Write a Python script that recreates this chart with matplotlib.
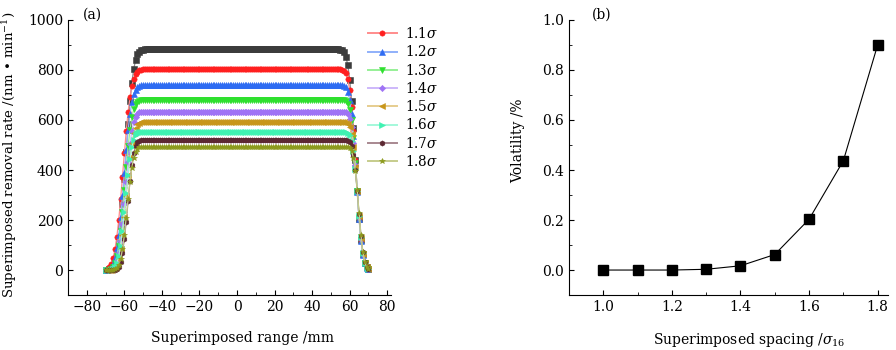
import matplotlib.pyplot as plt
from matplotlib.ticker import MultipleLocator

plt.rcParams['font.family'] = 'DejaVu Serif'
plt.rcParams['mathtext.fontset'] = 'dejavuserif'
plt.rcParams['font.size'] = 10

# (a) superimposed removal rate profiles, sampled every 1 mm
x_rise = [-70, -69, -68, -67, -66, -65, -64, -63, -62, -61, -60,
          -59, -58, -57, -56, -55, -54, -53, -52, -51, -50]
x_flat = list(range(-49, 50))
x_fall = [50, 51, 52, 53, 54, 55, 56, 57, 58, 59, 60,
          61, 62, 63, 64, 65, 66, 67, 68, 69, 70]

spacing_labels = ['1.0', '1.1', '1.2', '1.3', '1.4', '1.5', '1.6', '1.7', '1.8']
levels = [883, 803, 740, 680, 633, 591, 553, 520, 493]

rise_10 = [0, 1, 3, 7, 16, 33, 63, 109, 177, 263, 365, 473, 582, 675, 749, 804, 840, 862, 873, 879, 881]
rise_11 = [2, 6, 13, 26, 48, 83, 133, 199, 283, 373, 468, 555, 631, 692, 736, 765, 783, 793, 799, 801, 803]
rise_12 = [1, 2, 5, 12, 26, 49, 87, 140, 213, 297, 388, 479, 559, 622, 670, 702, 721, 731, 736, 739, 740]
rise_13 = [0, 1, 2, 6, 13, 28, 55, 97, 158, 234, 321, 412, 494, 560, 611, 643, 662, 672, 677, 679, 680]
rise_14 = [0, 0, 1, 3, 7, 17, 35, 68, 116, 184, 264, 352, 433, 505, 556, 592, 613, 624, 630, 632, 633]
rise_15 = [0, 0, 0, 1, 4, 10, 22, 45, 84, 141, 212, 296, 379, 450, 507, 546, 569, 582, 587, 590, 591]
rise_16 = [0, 0, 1, 2, 5, 13, 28, 55, 97, 157, 231, 307, 382, 445, 491, 521, 538, 547, 551, 552, 553]
rise_17 = [0, 0, 0, 0, 0, 2, 5, 14, 33, 68, 123, 194, 277, 356, 422, 468, 496, 510, 516, 519, 520]
rise_18 = [0, 0, 0, 0, 1, 3, 8, 21, 44, 83, 139, 210, 284, 354, 410, 449, 472, 485, 490, 492, 493]

fall_10 = [883, 883, 883, 883, 883, 881, 878, 870, 853, 818, 761, 677, 566, 442, 317, 206, 122, 65, 30, 13, 5]
fall_11 = [803, 803, 803, 803, 803, 802, 801, 797, 786, 763, 721, 651, 555, 440, 316, 207, 120, 63, 28, 11, 4]
fall_12 = [740, 740, 740, 740, 740, 740, 739, 737, 730, 713, 680, 622, 537, 428, 312, 203, 118, 60, 27, 10, 3]
fall_13 = [680, 680, 680, 680, 680, 680, 680, 678, 675, 664, 641, 598, 526, 428, 318, 210, 122, 63, 27, 10, 3]
fall_14 = [633, 633, 633, 633, 633, 633, 633, 632, 630, 622, 605, 570, 508, 422, 317, 211, 125, 63, 28, 11, 3]
fall_15 = [591, 591, 591, 591, 591, 591, 591, 590, 589, 584, 571, 542, 491, 413, 317, 215, 129, 66, 29, 11, 3]
fall_16 = [553, 553, 553, 553, 553, 553, 553, 553, 552, 549, 539, 517, 474, 405, 316, 218, 132, 68, 30, 11, 4]
fall_17 = [520, 520, 520, 520, 520, 520, 520, 520, 519, 517, 511, 494, 458, 399, 315, 223, 136, 72, 32, 12, 4]
fall_18 = [493, 493, 493, 493, 493, 493, 493, 493, 493, 492, 488, 476, 448, 397, 319, 227, 140, 72, 32, 11, 3]

rises = [rise_10, rise_11, rise_12, rise_13, rise_14, rise_15, rise_16, rise_17, rise_18]
falls = [fall_10, fall_11, fall_12, fall_13, fall_14, fall_15, fall_16, fall_17, fall_18]

colors = ['#3c3c3c', '#ff1f1f', '#2f6cf2', '#2fe02f', '#9f73f5',
          '#c8961a', '#3ff2b2', '#5c2832', '#8c9a1c']
line_colors = ['#8a8a8a', '#ff8c8c', '#8fb0fa', '#96f096', '#cdb8fa',
               '#e6cd8f', '#a4f8da', '#a88890', '#c6cc8c']
markers = ['s', 'o', '^', 'v', 'D', '<', '>', 'h', '*']
msizes = [3.8, 3.8, 3.8, 3.8, 3.2, 3.8, 3.8, 3.8, 4.4]

# (b) volatility vs superimposed spacing
spacing = [1.0, 1.1, 1.2, 1.3, 1.4, 1.5, 1.6, 1.7, 1.8]
volatility = [0.0, 0.0, 0.0, 0.003, 0.017, 0.062, 0.203, 0.437, 0.9]

fig = plt.figure(figsize=(8.96, 3.5), dpi=100)
ax1 = fig.add_axes([0.0759, 0.157, 0.3605, 0.786])
ax2 = fig.add_axes([0.635, 0.157, 0.356, 0.786])

x_all = x_rise + x_flat + x_fall
for i, lab in enumerate(spacing_labels):
    y_all = rises[i] + [levels[i]] * len(x_flat) + falls[i]
    label = '_nolegend_' if i == 0 else lab + r'$\sigma$'
    ax1.plot(x_all, y_all, color=line_colors[i], lw=0.9, marker=markers[i],
             ms=msizes[i], mfc=colors[i], mec=colors[i], mew=0.4, label=label)

ax1.set_xlim(-90, 82)
ax1.set_ylim(-100, 1000)
ax1.xaxis.set_major_locator(MultipleLocator(20))
ax1.xaxis.set_minor_locator(MultipleLocator(10))
ax1.yaxis.set_major_locator(MultipleLocator(200))
ax1.yaxis.set_minor_locator(MultipleLocator(100))
ax1.set_xlabel('Superimposed range /mm')
ax1.set_ylabel('Superimposed removal rate /(nm • min$^{-1}$)', fontsize=9.6)
ax1.xaxis.set_label_coords(0.539, -0.13)
ax1.yaxis.set_label_coords(-0.152, 0.51)
ax1.text(0.046, 1.02, '(a)', transform=ax1.transAxes, ha='left', va='center')

leg = ax1.legend(loc='upper left', bbox_to_anchor=(368 / 896, 1 - 26 / 350),
                 bbox_transform=fig.transFigure, frameon=False, fontsize=9.8,
                 handlelength=2.1, handletextpad=0.6, labelspacing=0.24,
                 borderpad=0, borderaxespad=0, markerscale=1.0)
for h in leg.get_lines():
    h.set_linewidth(1.4)

ax2.plot(spacing, volatility, color='black', lw=0.8, marker='s', ms=6.5,
         mfc='black', mec='black')
ax2.set_xlim(0.9, 1.83)
ax2.set_ylim(-0.1, 1.0)
ax2.xaxis.set_major_locator(MultipleLocator(0.2))
ax2.xaxis.set_minor_locator(MultipleLocator(0.1))
ax2.yaxis.set_major_locator(MultipleLocator(0.2))
ax2.yaxis.set_minor_locator(MultipleLocator(0.1))
ax2.set_xlabel(r'Superimposed spacing /$\sigma_{16}$')
ax2.set_ylabel('Volatility /%')
ax2.xaxis.set_label_coords(0.564, -0.13)
ax2.yaxis.set_label_coords(-0.138, 0.56)
ax2.text(0.072, 1.02, '(b)', transform=ax2.transAxes, ha='left', va='center')

for ax in (ax1, ax2):
    ax.spines['top'].set_visible(False)
    ax.spines['right'].set_visible(False)
    for s in ('left', 'bottom'):
        ax.spines[s].set_linewidth(0.8)
    ax.tick_params(which='major', direction='in', length=3.5, width=0.8, labelsize=10)
    ax.tick_params(which='minor', direction='in', length=2, width=0.6)

fig.savefig('out.png', dpi=100)
